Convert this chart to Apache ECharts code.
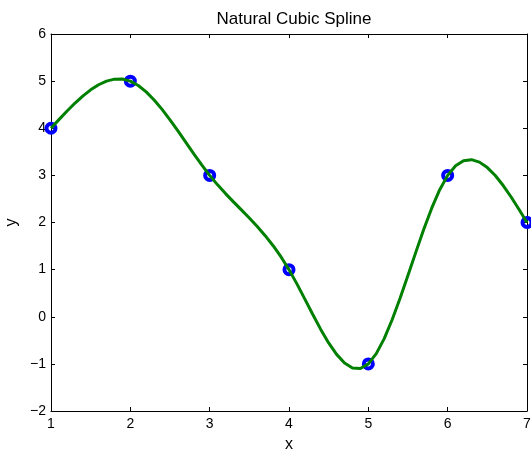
<!DOCTYPE html>
<html><head><meta charset="utf-8">
<script src="https://cdn.jsdelivr.net/npm/echarts@6/dist/echarts.min.js"></script>
<style>html,body{margin:0;padding:0;background:#fff}#c{width:531px;height:450px}</style>
</head><body><div id="c"></div>
<script>
const knotX = [1, 2, 3, 4, 5, 6, 7];
const knotY = [4, 5, 3, 1, -1, 3, 2];
const curveX = [1,1.1,1.2,1.3,1.4,1.5,1.6,1.7,1.8,1.9,
  2,2.1,2.2,2.3,2.4,2.5,2.6,2.7,2.8,2.9,
  3,3.1,3.2,3.3,3.4,3.5,3.6,3.7,3.8,3.9,
  4,4.1,4.2,4.3,4.4,4.5,4.6,4.7,4.8,4.9,
  5,5.1,5.2,5.3,5.4,5.5,5.6,5.7,5.8,5.9,
  6,6.1,6.2,6.3,6.4,6.5,6.6,6.7,6.8,6.9,7];
const curveY = [4,4.1833,4.3615,4.5296,4.6826,4.8154,4.9230,5.0002,5.0422,5.0438,
  5,4.9078,4.7723,4.6008,4.4006,4.1788,3.9428,3.6996,3.4566,3.2210,
  3,2.7987,2.6133,2.4380,2.2670,2.0942,1.9140,1.7203,1.5073,1.2692,
  1,0.6976,0.3745,0.0471,-0.2684,-0.5558,-0.7986,-0.9808,-1.0859,-1.0977,
  -1,-0.7830,-0.4634,-0.0644,0.3908,0.8789,1.3766,1.8609,2.3083,2.6958,
  3,3.2034,3.3110,3.3334,3.2814,3.1654,2.9962,2.7844,2.5407,2.2757,2];
const titleText = 'Natural Cubic Spline';
const xName = 'x', yName = 'y';

const font = 'Liberation Sans, Arial, Helvetica, sans-serif';
const fmt = v => String(v).replace('-', '\u2212');
const axisCommon = {
  type: 'value',
  axisLine: { show: true, onZero: false, lineStyle: { color: '#000', width: 1 } },
  axisTick: { show: true, inside: true, length: 4, lineStyle: { color: '#000' } },
  splitLine: { show: false }
};
const chart = echarts.init(document.getElementById('c'), null, { renderer: 'canvas' });
chart.setOption({
  animation: false,
  backgroundColor: '#fff',
  title: { text: titleText, left: 289, top: 6, textAlign: 'center',
    textStyle: { fontFamily: font, fontSize: 17, fontWeight: 'normal', color: '#000' } },
  grid: { left: 51, top: 34, right: 4, bottom: 39, containLabel: false, outerBoundsMode: 'none' },
  xAxis: [
    Object.assign({}, axisCommon, { min: 1, max: 7, interval: 1, position: 'bottom',
      name: xName, nameLocation: 'middle', nameGap: 26,
      nameTextStyle: { fontFamily: font, fontSize: 16, color: '#000' },
      axisLabel: { fontFamily: font, fontSize: 14, color: '#000', margin: 6, formatter: fmt } }),
    Object.assign({}, axisCommon, { min: 1, max: 7, interval: 1, position: 'top',
      axisLabel: { show: false } })
  ],
  yAxis: [
    Object.assign({}, axisCommon, { min: -2, max: 6, interval: 1, position: 'left',
      name: yName, nameLocation: 'middle', nameGap: 30, nameRotate: 90,
      nameTextStyle: { fontFamily: font, fontSize: 16, color: '#000' },
      axisLabel: { fontFamily: font, fontSize: 14, color: '#000', margin: 5, formatter: fmt } }),
    Object.assign({}, axisCommon, { min: -2, max: 6, interval: 1, position: 'right',
      axisLabel: { show: false } })
  ],
  series: [
    { type: 'scatter', data: knotX.map((x, i) => [x, knotY[i]]), symbol: 'circle',
      symbolSize: 9, itemStyle: { color: 'rgba(0,0,0,0)', borderColor: '#0000ff', borderWidth: 4, opacity: 1 },
      z: 2 },
    { type: 'line', data: curveX.map((x, i) => [x, curveY[i]]), showSymbol: false,
      smooth: false, lineStyle: { color: '#008000', width: 3 }, z: 3 }
  ]
});
</script></body></html>
